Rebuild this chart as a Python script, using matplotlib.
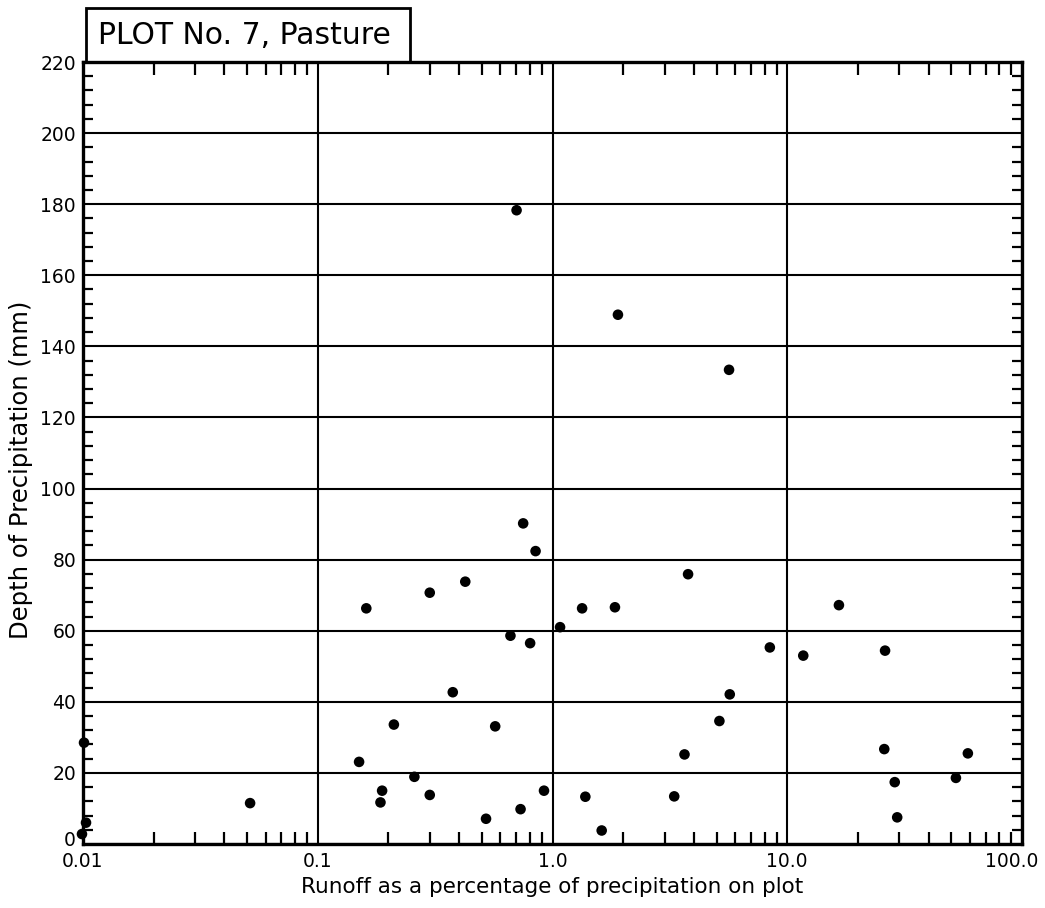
import matplotlib
matplotlib.use("Agg")
import matplotlib.pyplot as plt
from matplotlib.ticker import FixedLocator, FixedFormatter, LogLocator, MultipleLocator, NullFormatter
from matplotlib.patches import Rectangle
from matplotlib.transforms import ScaledTranslation

plt.rcParams['font.family'] = ['DejaVu Sans']

# Runoff (% of precipitation) and depth of precipitation (mm) for each storm
runoff_pct = [
    0.0101, 0.0103, 0.0099, 0.0515,
    0.150, 0.161, 0.188, 0.185, 0.211, 0.258, 0.30, 0.30, 0.376, 0.425,
    0.521, 0.570, 0.662, 0.703, 0.731, 0.75, 0.803, 0.847, 0.92,
    1.077, 1.337, 1.38, 1.62, 1.845, 1.90,
    3.30, 3.65, 3.78, 5.14, 5.65, 5.69, 8.43,
    11.7, 16.6, 26.1, 25.9, 28.7, 29.4, 52.3, 58.8,
]
precip_mm = [
    28.5, 6.0, 2.8, 11.5,
    23.1, 66.3, 15.0, 11.7, 33.6, 18.9, 70.7, 13.8, 42.7, 73.8,
    7.1, 33.1, 58.6, 178.3, 9.8, 90.2, 56.5, 82.4, 15.0,
    61.0, 66.3, 13.3, 3.8, 66.6, 148.9,
    13.4, 25.2, 75.9, 34.6, 133.4, 42.1, 55.3,
    53.0, 67.2, 54.4, 26.7, 17.4, 7.5, 18.6, 25.5,
]

x_ticks = [0.01, 0.1, 1.0, 10.0, 100.0]
x_tick_labels = ['0.01', '0.1', '1.0', '10.0', '100.0']
y_ticks = [0, 20, 40, 60, 80, 100, 120, 140, 160, 180, 200, 220]

title_text = 'PLOT No. 7, Pasture'
x_label = 'Runoff as a percentage of precipitation on plot'
y_label = 'Depth of Precipitation (mm)'

W, H = 1045, 908
fig = plt.figure(figsize=(W / 100, H / 100), dpi=100)
left, right, top, bottom = 83, 1022, 62, 844
ax = fig.add_axes([left / W, 1 - bottom / H, (right - left) / W, (bottom - top) / H])

ax.set_xscale('log')
ax.set_xlim(0.01, 100)
ax.set_ylim(0, 220)

ax.scatter(runoff_pct, precip_mm, s=58, color='black', edgecolors='none',
           zorder=5, clip_on=False)

# Grid at decades and every 20 mm
ax.xaxis.set_major_locator(FixedLocator(x_ticks))
ax.xaxis.set_major_formatter(FixedFormatter(x_tick_labels))
ax.xaxis.set_minor_locator(LogLocator(base=10, subs=[2, 3, 4, 5, 6, 7, 8, 9]))
ax.xaxis.set_minor_formatter(NullFormatter())
ax.yaxis.set_major_locator(FixedLocator(y_ticks))
ax.yaxis.set_minor_locator(MultipleLocator(4))
ax.grid(True, which='major', color='black', linewidth=1.5)
ax.set_axisbelow(True)

for sp in ax.spines.values():
    sp.set_linewidth(2.4)
    sp.set_color('black')

ax.tick_params(axis='both', which='major', length=0, pad=5, labelsize=13.5,
               colors='black')
ax.tick_params(axis='x', which='major', pad=6)
ax.tick_params(axis='x', which='minor', direction='in', length=9, width=1.6,
               top=True, bottom=True)
ax.tick_params(axis='y', which='minor', direction='in', length=7.5, width=1.6,
               left=True, right=True)

ax.set_xlabel(x_label, fontsize=15.5, labelpad=4)
ax.set_ylabel(y_label, fontsize=17.5)
ax.yaxis.set_label_coords(-0.053, 0.479)

# Nudge the corner labels so they stay inside the figure and apart
fig.canvas.draw()
xlabels = ax.xaxis.get_majorticklabels()
xlabels[-1].set_transform(xlabels[-1].get_transform()
                          + ScaledTranslation(-10 / 100, 0, fig.dpi_scale_trans))
ylabels = ax.yaxis.get_majorticklabels()
ylabels[0].set_transform(ylabels[0].get_transform()
                         + ScaledTranslation(0, 5 / 100, fig.dpi_scale_trans))

# Boxed plot title sitting on the upper frame
box_l, box_r, box_t = 86, 410, 8
fig.patches.append(Rectangle((box_l / W, 1 - top / H), (box_r - box_l) / W,
                             (top - box_t) / H, transform=fig.transFigure,
                             fill=False, edgecolor='black', linewidth=2.0))
fig.text(98 / W, 1 - 36 / H, title_text, fontsize=21.5, ha='left', va='center')

fig.savefig('out.png', dpi=100)
